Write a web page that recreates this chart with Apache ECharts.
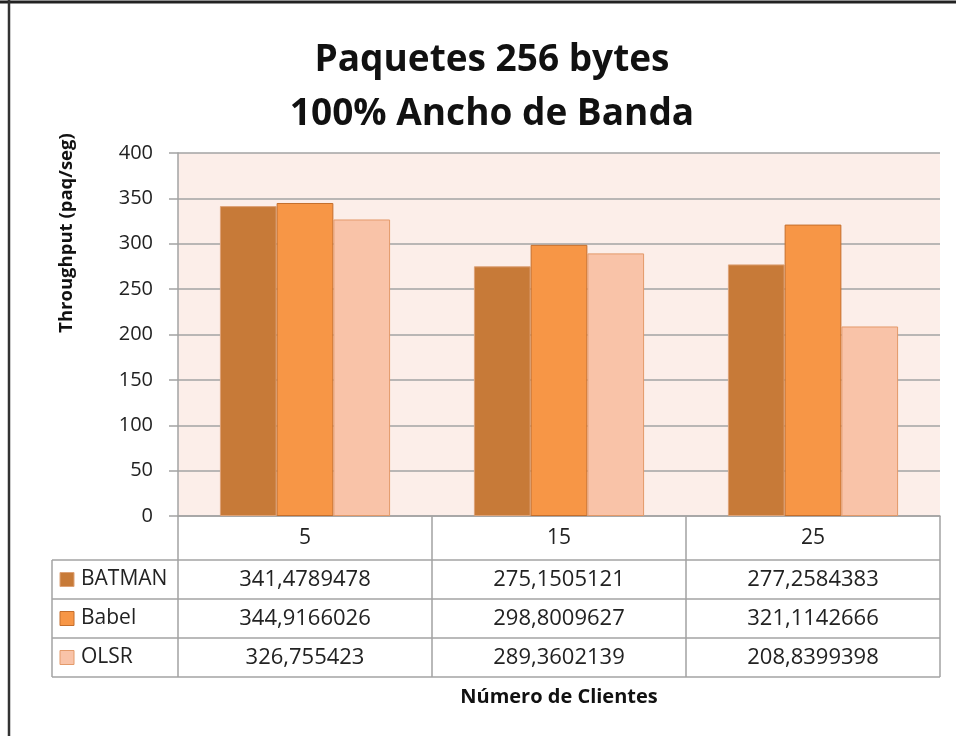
<!DOCTYPE html>
<html>
<head>
<meta charset="utf-8">
<script src="https://cdn.jsdelivr.net/npm/echarts@6/dist/echarts.min.js"></script>
<style>
  html, body { margin: 0; padding: 0; background: #ffffff; }
  #c { width: 956px; height: 736px; }
</style>
</head>
<body>
<div id="c"></div>
<script>
// Number of clients per test run
const categories = ['5', '15', '25'];
// Throughput (packets/second) per routing protocol
const seriesNames = ['BATMAN', 'Babel', 'OLSR'];
const batman = [341.4789478, 275.1505121, 277.2584383];
const babel = [344.9166026, 298.8009627, 321.1142666];
const olsr = [326.755423, 289.3602139, 208.8399398];
// Value axis ticks
const yMin = 0, yMax = 400, yStep = 50;

const FONT = 'Open Sans';
const fills = ['#C77A38', '#F79646', '#F9C3A8'];
const borders = ['#DDA277', '#C46E2C', '#E39A6A'];
const values = [batman, babel, olsr];
const lineGray = '#A3A3A3';

const chart = echarts.init(document.getElementById('c'), null, { renderer: 'canvas' });

const option = {
  animation: false,
  backgroundColor: '#ffffff',
  title: {
    text: 'Paquetes 256 bytes\n100% Ancho de Banda',
    left: 487,
    top: 28,
    textAlign: 'center',
    textStyle: {
      fontFamily: FONT,
      fontWeight: 'bold',
      fontSize: 37,
      lineHeight: 54,
      color: '#111111'
    }
  },
  grid: {
    left: 178, right: 16, top: 153, bottom: 220,
    show: true, backgroundColor: '#FCEEE9', borderWidth: 0
  },
  xAxis: {
    type: 'category',
    data: categories,
    axisLine: { lineStyle: { color: lineGray, width: 1.5 } },
    axisTick: { show: true, length: 161, lineStyle: { color: lineGray, width: 1.5 } },
    axisLabel: {
      fontFamily: FONT, fontSize: 21, color: '#222222',
      margin: 10, lineHeight: 24
    },
    splitLine: { show: false }
  },
  yAxis: {
    type: 'value',
    min: yMin, max: yMax, interval: yStep,
    axisLine: { show: true, lineStyle: { color: lineGray, width: 1.5 } },
    axisTick: { show: true, length: 9, lineStyle: { color: lineGray, width: 1.5 } },
    axisLabel: { fontFamily: FONT, fontSize: 20, color: '#222222', margin: 25 },
    splitLine: { lineStyle: { color: lineGray, width: 1.5 } }
  },
  series: seriesNames.map((name, i) => ({
    name: name,
    type: 'bar',
    data: values[i],
    barGap: '0%',
    barCategoryGap: '33%',
    itemStyle: { color: fills[i], borderColor: borders[i], borderWidth: 1 }
  }))
};

chart.setOption(option);

// Data table beneath the plot, aligned with the category axis
function buildTable() {
  const y0 = chart.convertToPixel({ yAxisIndex: 0 }, 0);
  const colX = categories.map(c => chart.convertToPixel({ xAxisIndex: 0 }, c));
  const xRight = 940, xLeft = 52, headerH = 44, rowH = 39;
  const tableTop = y0 + headerH;
  const tableBottom = tableTop + rowH * seriesNames.length;
  const els = [];

  // frame lines
  for (let r = 0; r <= seriesNames.length; r++) {
    const y = tableTop + r * rowH;
    els.push({ type: 'line', shape: { x1: xLeft, y1: y, x2: xRight, y2: y },
      style: { stroke: lineGray, lineWidth: 1.5 } });
  }
  els.push({ type: 'line', shape: { x1: xLeft, y1: tableTop, x2: xLeft, y2: tableBottom },
    style: { stroke: lineGray, lineWidth: 1.5 } });

  seriesNames.forEach((name, i) => {
    const cy = tableTop + rowH * i + rowH / 2;
    els.push({ type: 'rect', shape: { x: 60, y: cy - 7, width: 14, height: 14 },
      style: { fill: fills[i], stroke: borders[i], lineWidth: 1 } });
    els.push({ type: 'text', x: 81, y: cy,
      style: { text: name, fontFamily: FONT, fontSize: 21, fill: '#222222',
        textAlign: 'left', textVerticalAlign: 'middle' } });
    values[i].forEach((v, j) => {
      els.push({ type: 'text', x: colX[j], y: cy,
        style: { text: String(v).replace('.', ','), fontFamily: FONT, fontSize: 22,
          fill: '#222222', textAlign: 'center', textVerticalAlign: 'middle' } });
    });
  });

  // axis titles
  els.push({ type: 'text', x: 559, y: 697,
    style: { text: 'Número de Clientes', fontFamily: FONT, fontWeight: 'bold', fontSize: 20,
      fill: '#111111', textAlign: 'center', textVerticalAlign: 'middle' } });
  els.push({ type: 'text', x: 67, y: 233, rotation: Math.PI / 2,
    style: { text: 'Throughput (paq/seg)', fontFamily: FONT, fontWeight: 'bold', fontSize: 18.5,
      fill: '#111111', textAlign: 'center', textVerticalAlign: 'middle' } });

  // outer frame edges
  els.push({ type: 'line', shape: { x1: 0, y1: 2, x2: 956, y2: 2 },
    style: { stroke: '#222222', lineWidth: 3 } });
  els.push({ type: 'line', shape: { x1: 9, y1: 0, x2: 9, y2: 736 },
    style: { stroke: '#333333', lineWidth: 2.5 } });

  chart.setOption({ graphic: { elements: els } });
}
buildTable();
</script>
</body>
</html>
